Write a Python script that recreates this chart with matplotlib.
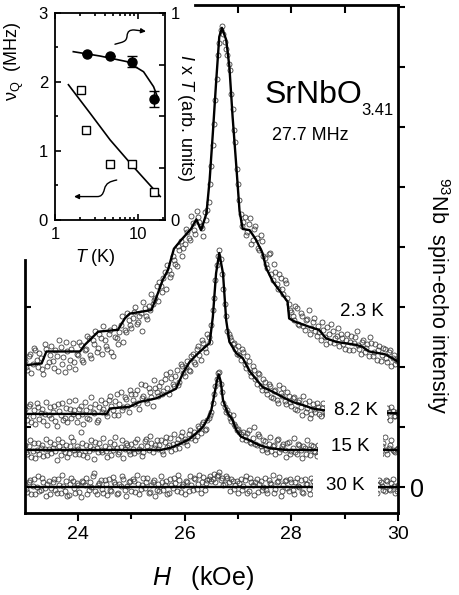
import numpy as np
import matplotlib.pyplot as plt
from matplotlib.path import Path
from matplotlib.patches import FancyArrowPatch

plt.rcParams['font.family'] = ['Liberation Sans', 'DejaVu Sans']
plt.rcParams['mathtext.fontset'] = 'custom'
plt.rcParams['mathtext.rm'] = 'Liberation Sans'
plt.rcParams['mathtext.it'] = 'Liberation Sans:italic'

# ---- spectra: two interleaved field sweeps (kOe), intensity offset per temperature
H = np.round(23.0 + 0.05 * np.arange(141), 3)
H2 = np.round(23.025 + 0.05 * np.arange(140), 3)

I_23 = [2.10, 1.95, 2.22, 2.05, 2.28, 2.00, 2.15, 1.88, 2.30, 2.08,
        2.35, 1.98, 2.18, 2.45, 2.05, 1.92, 2.26, 2.12, 2.40, 1.97,
        2.20, 2.36, 2.08, 2.30, 2.48, 2.15, 2.38, 2.25, 2.55, 2.22,
        2.45, 2.30, 2.62, 2.18, 2.50, 2.38, 2.70, 2.42, 2.58, 2.78,
        2.65, 2.92, 2.72, 2.85, 2.60, 2.98, 2.80, 2.95, 3.05, 3.15,
        3.10, 3.35, 3.48, 3.30, 3.62, 3.55, 3.78, 3.68, 3.95, 3.85,
        4.05, 4.25, 4.12, 4.40, 4.22, 4.50, 4.35, 4.18, 4.45, 4.75,
        5.35, 6.05, 6.80, 7.40, 7.68, 7.42, 7.20, 6.95, 6.30, 5.75,
        5.05, 4.55, 4.42, 4.20, 4.38, 4.05, 4.30, 4.15, 3.95, 4.10,
        3.82, 3.65, 3.90, 3.45, 3.58, 3.30, 3.48, 3.22, 3.40, 3.05,
        2.92, 2.78, 2.98, 2.70, 2.85, 2.62, 2.80, 2.55, 2.75, 2.60,
        2.68, 2.45, 2.62, 2.38, 2.55, 2.72, 2.40, 2.52, 2.35, 2.48,
        2.30, 2.55, 2.42, 2.28, 2.50, 2.36, 2.22, 2.45, 2.32, 2.18,
        2.40, 2.25, 2.12, 2.35, 2.20, 2.30, 2.08, 2.28, 2.15, 2.05,
        2.12]
I2_23 = [2.00, 2.18, 1.90, 2.32, 2.12, 2.24, 1.96, 2.38, 2.02, 2.20,
         2.10, 2.28, 1.93, 2.34, 2.16, 2.42, 2.00, 2.30, 2.08, 2.22,
         2.42, 2.12, 2.28, 2.52, 2.20, 2.45, 2.60, 2.32, 2.48, 2.68,
         2.35, 2.55, 2.25, 2.66, 2.48, 2.58, 2.85, 2.62, 2.90, 2.70,
         2.82, 3.00, 2.75, 2.90, 3.08, 2.85, 3.02, 3.22, 3.12, 3.35,
         3.42, 3.25, 3.58, 3.70, 3.50, 3.85, 3.72, 4.02, 4.10, 3.98,
         4.30, 4.15, 4.52, 4.28, 4.60, 4.42, 4.32, 4.58, 4.62, 5.05,
         5.70, 6.45, 7.20, 7.62, 7.55, 7.30, 7.05, 6.55, 5.95, 5.30,
         4.78, 4.35, 4.50, 4.25, 4.48, 4.12, 4.35, 3.98, 4.20, 3.85,
         3.72, 3.88, 3.55, 3.72, 3.38, 3.55, 3.30, 3.45, 3.15, 2.95,
         2.85, 3.02, 2.72, 2.90, 2.68, 2.78, 2.95, 2.65, 2.82, 2.52,
         2.58, 2.75, 2.50, 2.66, 2.42, 2.60, 2.48, 2.65, 2.55, 2.38,
         2.45, 2.28, 2.52, 2.40, 2.60, 2.30, 2.42, 2.25, 2.38, 2.50,
         2.18, 2.38, 2.28, 2.10, 2.32, 2.15, 2.25, 2.02, 2.20, 2.10]

I_82 = [1.30, 1.12, 1.38, 1.18, 1.05, 1.33, 1.24, 1.10, 1.42, 1.20,
        1.15, 1.35, 1.02, 1.27, 1.40, 1.16, 1.08, 1.31, 1.22, 1.45,
        1.19, 1.36, 1.06, 1.28, 1.14, 1.50, 1.23, 1.09, 1.34, 1.25,
        1.40, 1.18, 1.52, 1.29, 1.44, 1.21, 1.58, 1.33, 1.47, 1.26,
        1.55, 1.38, 1.62, 1.30, 1.49, 1.70, 1.41, 1.58, 1.35, 1.66,
        1.52, 1.75, 1.60, 1.88, 1.55, 1.82, 1.68, 1.95, 1.76, 2.02,
        1.85, 2.10, 1.93, 2.22, 2.05, 2.35, 2.12, 2.40, 2.25, 2.50,
        2.70, 3.15, 3.70, 3.95, 3.55, 3.05, 2.60, 2.50, 2.38, 2.30,
        2.35, 2.12, 2.25, 1.98, 2.10, 1.85, 1.95, 1.72, 1.88, 1.62,
        1.76, 1.55, 1.68, 1.48, 1.62, 1.40, 1.57, 1.66, 1.38, 1.52,
        1.35, 1.50, 1.28, 1.45, 1.20, 1.40, 1.32, 1.15, 1.38, 1.25,
        1.34, 1.18, 1.40, 1.22, 1.30, 1.15, 1.28, 1.35, 1.20, 1.26,
        1.24, 1.31, 1.16, 1.28, 1.20, 1.34, 1.18, 1.27, 1.22, 1.30,
        1.17, 1.29, 1.21, 1.36, 1.14, 1.25, 1.32, 1.12, 1.27, 1.19,
        1.23]
I2_82 = [1.20, 1.36, 1.08, 1.28, 1.40, 1.14, 1.30, 1.22, 1.04, 1.34,
         1.26, 1.10, 1.38, 1.20, 1.12, 1.32, 1.44, 1.16, 1.28, 1.09,
         1.30, 1.22, 1.42, 1.15, 1.33, 1.25, 1.38, 1.12, 1.46, 1.30,
         1.24, 1.45, 1.35, 1.20, 1.55, 1.38, 1.28, 1.50, 1.36, 1.62,
         1.45, 1.56, 1.40, 1.72, 1.52, 1.46, 1.65, 1.50, 1.78, 1.58,
         1.68, 1.56, 1.80, 1.66, 1.92, 1.72, 1.85, 1.70, 2.05, 1.90,
         2.00, 1.95, 2.18, 2.08, 2.30, 2.20, 2.45, 2.32, 2.55, 2.42,
         2.95, 3.45, 3.85, 3.80, 3.30, 2.85, 2.55, 2.45, 2.40, 2.22,
         2.20, 2.30, 2.05, 2.18, 1.92, 2.02, 1.80, 1.90, 1.68, 1.80,
         1.62, 1.72, 1.50, 1.60, 1.45, 1.70, 1.52, 1.44, 1.58, 1.42,
         1.48, 1.30, 1.42, 1.34, 1.52, 1.25, 1.44, 1.22, 1.30, 1.40,
         1.22, 1.32, 1.26, 1.18, 1.36, 1.24, 1.20, 1.30, 1.16, 1.28,
         1.19, 1.26, 1.32, 1.14, 1.25, 1.22, 1.30, 1.18, 1.34, 1.21,
         1.28, 1.15, 1.24, 1.20, 1.31, 1.17, 1.26, 1.33, 1.18, 1.25]

I_15 = [0.70, 0.55, 0.78, 0.60, 0.48, 0.74, 0.66, 0.52, 0.81, 0.63,
        0.57, 0.72, 0.45, 0.68, 0.75, 0.59, 0.50, 0.69, 0.77, 0.56,
        0.64, 0.92, 0.53, 0.71, 0.61, 0.79, 0.47, 0.66, 0.73, 0.58,
        0.69, 0.51, 0.76, 0.62, 0.84, 0.55, 0.67, 0.49, 0.74, 0.60,
        0.72, 0.57, 0.80, 0.63, 0.52, 0.77, 0.68, 0.86, 0.59, 0.71,
        0.64, 0.79, 0.55, 0.83, 0.70, 0.61, 0.88, 0.74, 0.66, 0.92,
        0.81, 0.71, 0.95, 0.86, 0.78, 1.02, 0.90, 1.08, 0.97, 1.16,
        1.25, 1.55, 1.80, 1.92, 1.58, 1.33, 1.28, 1.15, 1.20, 1.02,
        0.97, 0.88, 0.92, 0.78, 0.95, 0.74, 1.00, 0.70, 0.86, 0.62,
        0.77, 0.58, 0.83, 0.68, 0.55, 0.80, 0.64, 0.72, 0.51, 0.75,
        0.60, 0.82, 0.55, 0.70, 0.48, 0.66, 0.78, 0.53, 0.69, 0.58,
        0.71, 0.55, 0.66, 0.60, 0.73, 0.52, 0.64, 0.70, 0.58, 0.67,
        0.61, 0.69, 0.54, 0.72, 0.63, 0.57, 0.68, 0.60, 0.74, 0.56,
        0.65, 0.52, 0.76, 0.60, 0.69, 0.84, 0.55, 0.71, 0.62, 0.58,
        0.66]
I2_15 = [0.58, 0.68, 0.50, 0.74, 0.62, 0.56, 0.70, 0.64, 0.53, 0.76,
         0.66, 0.60, 0.80, 0.54, 0.63, 0.71, 0.57, 0.84, 0.62, 0.68,
         0.55, 0.73, 0.61, 0.50, 0.69, 0.64, 0.76, 0.59, 0.62, 0.82,
         0.60, 0.66, 0.54, 0.72, 0.65, 0.58, 0.78, 0.63, 0.70, 0.56,
         0.64, 0.75, 0.60, 0.69, 0.58, 0.81, 0.62, 0.73, 0.66, 0.78,
         0.70, 0.60, 0.76, 0.67, 0.82, 0.72, 0.63, 0.80, 0.86, 0.75,
         0.77, 0.88, 0.82, 0.92, 0.85, 0.98, 1.05, 0.96, 1.12, 1.20,
         1.40, 1.68, 1.90, 1.72, 1.40, 1.25, 1.22, 1.10, 1.05, 0.95,
         0.92, 0.80, 0.85, 0.90, 0.76, 0.82, 0.72, 0.88, 0.68, 0.78,
         0.64, 0.72, 0.60, 0.70, 0.78, 0.58, 0.68, 0.62, 0.74, 0.55,
         0.66, 0.58, 0.72, 0.62, 0.68, 0.55, 0.64, 0.70, 0.60, 0.52,
         0.63, 0.68, 0.57, 0.65, 0.61, 0.70, 0.59, 0.66, 0.62, 0.58,
         0.66, 0.58, 0.64, 0.70, 0.56, 0.62, 0.72, 0.58, 0.65, 0.60,
         0.58, 0.70, 0.64, 0.55, 0.74, 0.62, 0.66, 0.78, 0.60, 0.63]

I_30 = [0.05, -0.08, 0.12, 0.02, -0.12, 0.18, -0.04, 0.08, -0.15, 0.10,
        -0.02, 0.14, -0.10, 0.04, 0.20, -0.06, -0.14, 0.06, 0.11, -0.09,
        0.03, -0.16, 0.09, 0.15, -0.05, 0.01, 0.24, -0.11, 0.07, -0.03,
        0.12, -0.13, -0.04, 0.17, 0.05, -0.09, 0.02, 0.13, -0.15, 0.08,
        -0.06, 0.10, 0.21, -0.12, 0.04, -0.02, 0.15, -0.08, 0.09, -0.14,
        0.06, 0.18, -0.05, 0.11, -0.10, 0.03, 0.16, -0.07, 0.12, 0.02,
        -0.11, 0.08, 0.19, -0.04, 0.13, 0.05, -0.09, 0.17, 0.07, 0.14,
        0.10, 0.22, 0.18, 0.25, 0.15, 0.06, 0.16, -0.06, 0.11, 0.04,
        -0.10, 0.13, 0.02, 0.19, -0.07, 0.08, -0.13, 0.14, 0.05, -0.04,
        0.16, -0.09, 0.07, 0.21, -0.03, 0.10, -0.14, 0.04, 0.12, -0.06,
        0.09, -0.11, 0.15, 0.01, -0.08, 0.13, 0.06, -0.12, 0.10, -0.02,
        0.07, -0.09, 0.12, 0.03, -0.05, 0.10, -0.07, 0.04, 0.09, -0.03,
        0.05, -0.06, 0.08, -0.02, 0.11, -0.04, 0.06, -0.08, 0.03, 0.09,
        -0.05, 0.07, -0.10, 0.12, 0.02, -0.07, 0.10, -0.04, 0.13, -0.09,
        0.04]
I2_30 = [-0.03, 0.09, -0.11, 0.14, 0.01, -0.07, 0.16, -0.02, 0.06, -0.12,
         0.08, -0.05, 0.13, -0.09, 0.02, 0.10, -0.13, 0.15, -0.01, 0.07,
         -0.08, 0.11, 0.04, -0.12, 0.09, 0.18, -0.06, 0.03, 0.12, -0.10,
         0.06, 0.14, -0.07, 0.09, -0.11, 0.05, 0.19, -0.04, 0.02, 0.11,
         0.13, -0.08, 0.06, -0.03, 0.16, 0.08, -0.10, 0.04, 0.12, -0.05,
         -0.07, 0.09, 0.03, -0.12, 0.14, -0.02, 0.07, 0.20, -0.08, 0.05,
         0.10, -0.06, 0.04, 0.15, -0.03, 0.20, 0.09, -0.05, 0.12, 0.18,
         0.14, 0.08, 0.20, 0.12, 0.03, 0.18, 0.09, 0.14, -0.03, 0.10,
         0.07, -0.05, 0.12, -0.09, 0.16, 0.03, 0.09, -0.08, 0.11, 0.01,
         -0.04, 0.12, 0.05, -0.10, 0.08, 0.17, -0.06, 0.10, -0.02, 0.14,
         -0.05, 0.08, 0.02, 0.12, -0.09, 0.05, -0.03, 0.16, 0.04, -0.07,
         0.02, 0.08, -0.06, 0.05, 0.11, -0.02, 0.07, -0.08, 0.06, 0.01,
         -0.07, 0.04, 0.10, -0.03, 0.06, 0.12, -0.09, 0.05, -0.02, 0.08,
         0.06, -0.08, 0.03, 0.09, -0.05, 0.12, -0.03, 0.07, 0.02, -0.06]

# ---- simulated spectra (fit lines)
fitH_23 = [23.0, 23.32, 23.41, 24.04, 24.13, 24.38, 24.75, 24.88, 24.97, 25.38,
           25.50, 25.59, 25.69, 25.80, 25.94, 26.12, 26.22, 26.31, 26.41, 26.47,
           26.53, 26.59, 26.65, 26.70, 26.78, 26.84, 26.90, 26.97, 27.03, 27.09,
           27.22, 27.34, 27.46, 27.53, 27.65, 27.84, 27.93, 27.96, 28.06, 28.34,
           28.52, 28.65, 28.84, 29.21, 29.33, 29.46, 29.77, 30.0]
fitI_23 = [2.03, 2.06, 2.26, 2.26, 2.37, 2.59, 2.62, 2.81, 2.89, 2.95,
           3.23, 3.45, 3.62, 3.97, 4.12, 4.30, 4.46, 4.28, 4.56, 5.12,
           5.90, 6.73, 7.50, 7.65, 7.45, 7.00, 6.17, 5.34, 4.60, 4.30,
           4.28, 4.12, 3.90, 3.65, 3.43, 3.20, 3.09, 2.81, 2.76, 2.67,
           2.62, 2.48, 2.42, 2.37, 2.34, 2.26, 2.21, 2.09]

fitH_82 = [23.0, 24.54, 24.60, 24.97, 25.16, 25.47, 25.66, 25.84, 25.97, 26.09,
           26.22, 26.34, 26.47, 26.53, 26.59, 26.65, 26.72, 26.78, 26.84, 26.97,
           27.09, 27.22, 27.34, 27.46, 27.65, 27.84, 28.02, 28.21, 28.40, 28.62,
           29.70, 30.0]
fitI_82 = [1.22, 1.22, 1.31, 1.34, 1.42, 1.48, 1.56, 1.64, 1.90, 2.08,
           2.20, 2.30, 2.40, 2.84, 3.56, 3.90, 3.56, 2.78, 2.42, 2.23,
           2.15, 1.93, 1.80, 1.67, 1.59, 1.50, 1.42, 1.37, 1.31, 1.28,
           1.24, 1.23]

fitH_15 = [23.0, 25.56, 25.75, 25.91, 26.09, 26.22, 26.34, 26.44, 26.50, 26.56,
           26.60, 26.64, 26.68, 26.72, 26.81, 26.90, 26.97, 27.06, 27.22, 27.40,
           27.59, 27.90, 30.0]
fitI_15 = [0.62, 0.62, 0.66, 0.72, 0.80, 0.90, 1.00, 1.15, 1.28, 1.55,
           1.75, 1.88, 1.75, 1.45, 1.23, 1.12, 0.95, 0.84, 0.78, 0.70,
           0.65, 0.62, 0.62]

fitH_30 = [23.0, 30.0]
fitI_30 = [0.0, 0.0]

temps = ['2.3 K', '8.2 K', '15 K', '30 K']
label_H = [28.92, 28.80, 28.74, 28.65]
label_I = [2.93, 1.28, 0.67, 0.03]
label_pad = [None, 0.5, 0.7, 0.7]

# ---- inset: nu_Q (left) and I x T (right) vs T
T_nuq = [2.05, 2.35, 4.6, 8.5, 15.5]
nuq = [1.89, 1.30, 0.81, 0.81, 0.40]
T_IT = [2.4, 4.6, 8.5, 15.5]
IT = [0.80, 0.79, 0.765, 0.584]
IT_err = [0.0, 0.0, 0.027, 0.037]
fitT_nuq = [1.45, 2.63, 4.6, 8.77, 18.4]
fit_nuq = [1.96, 1.55, 1.16, 0.77, 0.34]
fitT_IT = [1.66, 3.48, 7.31, 11.6, 15.3, 17.6]
fit_IT = [0.813, 0.792, 0.765, 0.716, 0.644, 0.58]

fig = plt.figure(figsize=(4.59, 5.95), dpi=100)
ax = fig.add_axes([0.0534, 0.1378, 0.8137, 0.8538])

spectra = [(I_23, I2_23, fitH_23, fitI_23), (I_82, I2_82, fitH_82, fitI_82),
           (I_15, I2_15, fitH_15, fitI_15), (I_30, I2_30, fitH_30, fitI_30)]
for d1, d2, fh, fi in spectra:
    ax.plot(H, d1, 'o', mfc='none', mec='#404040', ms=3.6, mew=0.6, zorder=2)
    ax.plot(H2, d2, 'o', mfc='none', mec='#404040', ms=3.6, mew=0.6, zorder=2)
    ax.plot(fh, fi, '-', color='k', lw=1.7, zorder=3)

for t, x, y, p in zip(temps, label_H, label_I, label_pad):
    kw = {}
    if p is not None:
        kw['bbox'] = dict(boxstyle='square,pad=%g' % p, fc='white', ec='none')
    ax.text(x, y, t, fontsize=13.5, ha='left', va='center', zorder=5, **kw)

ax.text(27.5, 6.4, 'SrNbO', fontsize=23, ha='left', va='baseline')
ax.text(29.31, 6.2, '3.41', fontsize=12, ha='left', va='baseline')
ax.text(27.63, 5.78, '27.7 MHz', fontsize=13, ha='left', va='baseline')

ax.set_xlim(23, 30)
ax.set_ylim(-0.43, 8.03)
for s in ax.spines.values():
    s.set_linewidth(2.0)
ax.spines['left'].set_bounds(-0.43, 3.78)
ax.spines['top'].set_bounds(26.19, 30)

ax.set_xticks([24, 26, 28, 30])
ax.set_xticks([25, 27, 29], minor=True)
ax.tick_params(axis='x', which='major', direction='out', length=6, width=1.5,
               labelsize=14, pad=3)
ax.tick_params(axis='x', which='minor', direction='out', length=4, width=1.5)
ax.set_yticks([1, 3])
ax.set_yticklabels([])
ax.tick_params(axis='y', direction='in', length=4, width=1.5)

axr = ax.twinx()
axr.set_ylim(ax.get_ylim())
axr.set_frame_on(False)
axr.set_yticks(range(9))
axr.set_yticklabels(['0'] + [''] * 8)
axr.tick_params(axis='y', direction='out', length=5, width=1.5, labelsize=18, pad=4)

axt = ax.twiny()
axt.set_xlim(ax.get_xlim())
axt.set_frame_on(False)
axt.set_xticks([27, 28, 29])
axt.set_xticklabels([])
axt.tick_params(axis='x', direction='in', length=6, width=1.5)

fig.text(0.442, 0.0168, r'$\mathit{H}$   (kOe)', ha='center', va='baseline', fontsize=18)
fig.text(0.954, 0.504, r'$^{93}$Nb  spin-echo intensity', rotation=270,
         ha='center', va='center', fontsize=15.5)

# ---- inset
axin = fig.add_axes([0.1198, 0.6303, 0.2397, 0.3479])
axin.set_zorder(5)
axin.set_xscale('log')
axin.set_xlim(1, 21)
axin.set_ylim(0, 3)
axin.plot(fitT_nuq, fit_nuq, '-', color='k', lw=1.2)
axin.plot(T_nuq, nuq, 's', mfc='white', mec='k', ms=6, mew=1.0)
for s in axin.spines.values():
    s.set_linewidth(1.3)
axin.set_xticks([1, 10])
axin.set_xticklabels(['1', '10'])
axin.set_xticks([2, 3, 4, 5, 6, 7, 8, 9, 20], minor=True)
axin.set_xticklabels([], minor=True)
axin.set_yticks([0, 1, 2, 3])
axin.set_yticks([0.5, 1.5, 2.5], minor=True)
axin.tick_params(which='both', direction='in', top=True, right=False, width=1.2,
                 labelsize=12)
axin.tick_params(which='major', length=4)
axin.tick_params(which='minor', length=2.5)
axin.tick_params(axis='x', pad=5)
axin.tick_params(axis='y', pad=5)

axin_r = axin.twinx()
axin_r.set_zorder(6)
axin_r.set_ylim(0, 1)
axin_r.plot(fitT_IT, fit_IT, '-', color='k', lw=1.2)
axin_r.errorbar(T_IT, IT, yerr=IT_err, fmt='o', color='k', ms=6.5, capsize=3.5,
                elinewidth=1.0, capthick=1.0)
axin_r.set_yticks([0, 0.25, 0.5, 0.75, 1])
axin_r.set_yticklabels(['0', '', '', '', '1'])
axin_r.tick_params(axis='y', direction='in', length=4, width=1.2, labelsize=12, pad=4)
for s in axin_r.spines.values():
    s.set_visible(False)

axin.text(-0.373, 0.766, r'ν$_\mathrm{Q}$  (MHz)', rotation=90, transform=axin.transAxes,
          ha='center', va='center', fontsize=13)
axin.text(1.19, 0.495, r'$\mathit{I}$ x $\mathit{T}$ (arb. units)', rotation=270,
          transform=axin.transAxes, ha='center', va='center', fontsize=13)
axin.text(0.364, -0.203, r'$\mathit{T}$ (K)', transform=axin.transAxes,
          ha='center', va='baseline', fontsize=13)

# wavy arrows pointing to the relevant axis
top_path = Path([(0.545, 0.849), (0.618, 0.860), (0.650, 0.860), (0.655, 0.889),
                 (0.659, 0.913), (0.682, 0.918), (0.718, 0.918), (0.827, 0.911)],
                [Path.MOVETO, Path.CURVE4, Path.CURVE4, Path.CURVE4,
                 Path.CURVE4, Path.CURVE4, Path.CURVE4, Path.LINETO])
bot_path = Path([(0.561, 0.193), (0.500, 0.186), (0.464, 0.179), (0.450, 0.150),
                 (0.436, 0.121), (0.418, 0.113), (0.382, 0.113), (0.173, 0.113)],
                [Path.MOVETO, Path.CURVE4, Path.CURVE4, Path.CURVE4,
                 Path.CURVE4, Path.CURVE4, Path.CURVE4, Path.LINETO])
for p in (top_path, bot_path):
    arr = FancyArrowPatch(path=p, arrowstyle='-|>', mutation_scale=7, lw=1.0,
                          color='k', transform=axin.transAxes)
    axin_r.add_patch(arr)

fig.savefig('out.png', dpi=100)
